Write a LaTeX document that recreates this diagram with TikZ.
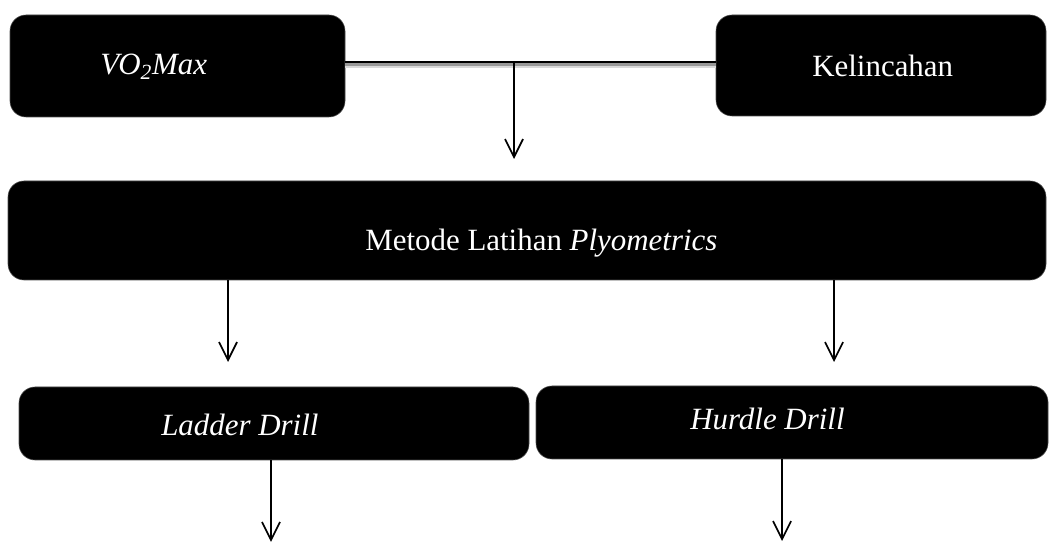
\documentclass[tikz,border=0pt]{standalone}
\usepackage{fontspec}
\setmainfont{Liberation Serif}
\usetikzlibrary{arrows.meta}

\tikzset{
  blackbox/.style={draw=black!70,fill=black,rounded corners=0.4cm,inner sep=0pt},
  boxtext/.style={text=white,font=\fontsize{22}{26}\selectfont,inner sep=0pt},
  downarrow/.style={-{Straight Barb[length=0.45cm,width=0.45cm]},line width=1.2pt}
}

\begin{document}
\begin{tikzpicture}
        \useasboundingbox (0,0) rectangle (26.25,13.575);
        % boxes
        \node[blackbox,minimum width=8.375cm,minimum height=2.55cm](vo2)at(4.4375,11.925){};
        \node[blackbox,minimum width=8.25cm,minimum height=2.525cm](kel)at(22.025,11.9375){};
        \node[blackbox,minimum width=25.95cm,minimum height=2.475cm](metode)at(13.175,7.8125){};
        \node[blackbox,minimum width=12.75cm,minimum height=1.825cm](ladder)at(6.85,2.9875){};
        \node[blackbox,minimum width=12.8cm,minimum height=1.825cm](hurdle)at(19.8,3.0125){};
        % texts
        \node[boxtext,anchor=base west](vo2text)at(2.5,11.7){\textit{VO\textsubscript{2}Max}};
        \node[boxtext,anchor=base west](keltext)at(20.3,11.65){Kelincahan};
        \node[boxtext,anchor=base west](metodetext)at(9.125,7.3){Metode Latihan \textit{Plyometrics}};
        \node[boxtext,anchor=base west](laddertext)at(4.025,2.675){\textit{Ladder Drill}};
        \node[boxtext,anchor=base west](hurdletext)at(17.25,2.825){\textit{Hurdle Drill}};
        % connectors
        \coordinate(join)at(12.85,12.025);
        \coordinate(joinend)at(12.85,9.6);
        \draw[black!15,line width=4pt]([yshift=-0.09cm]vo2.east|-join)--([yshift=-0.09cm]kel.west|-join);
        \draw[black!40,line width=2pt]([yshift=-0.07cm]vo2.east|-join)--([yshift=-0.07cm]kel.west|-join);
        \draw[line width=2pt](vo2.east|-join)--(kel.west|-join);
        \draw[downarrow](join)--(joinend);
        \coordinate(leftend)at(5.7,4.525);
        \coordinate(rightend)at(20.85,4.525);
        \draw[downarrow](metode.south-|leftend)--(leftend);
        \draw[downarrow](metode.south-|rightend)--(rightend);
        \coordinate(ladderend)at(6.775,0.03);
        \coordinate(hurdleend)at(19.55,0.05);
        \draw[downarrow](ladder.south-|ladderend)--(ladderend);
        \draw[downarrow](hurdle.south-|hurdleend)--(hurdleend);

    \end{tikzpicture}
\end{document}
